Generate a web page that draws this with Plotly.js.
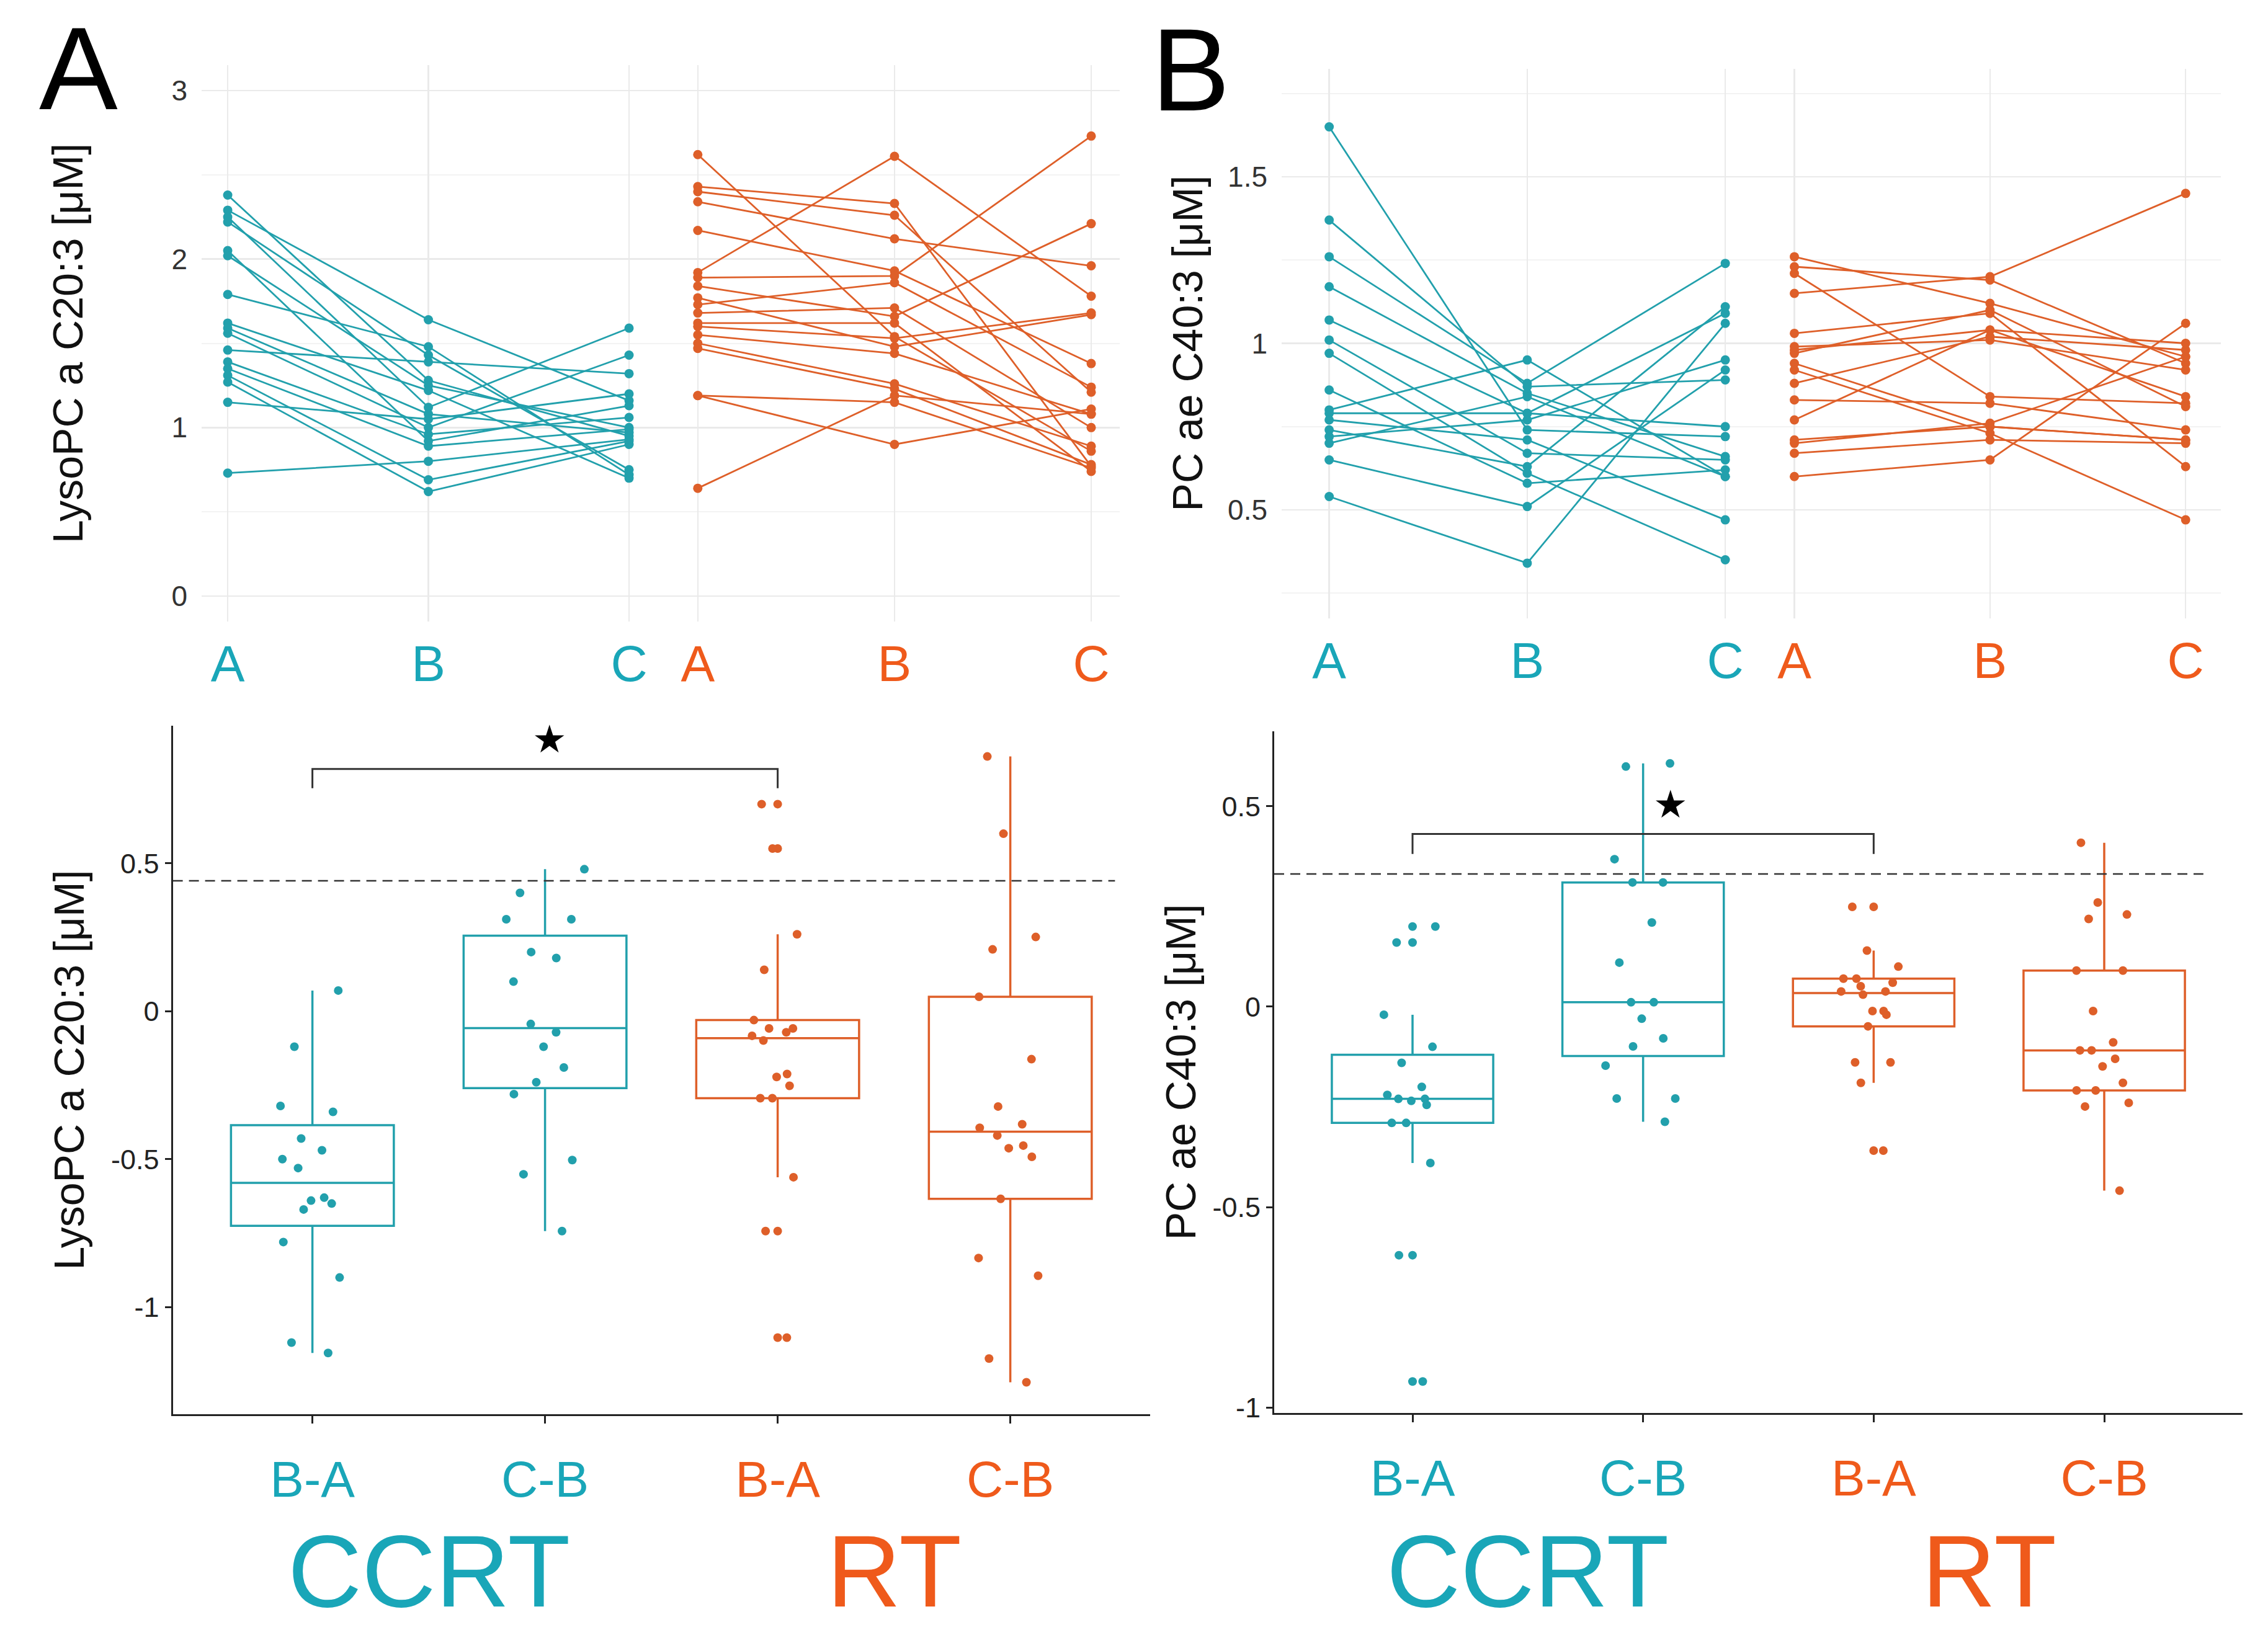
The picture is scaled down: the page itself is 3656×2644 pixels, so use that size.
<!DOCTYPE html>
<html>
<head>
<meta charset="utf-8">
<script src="https://cdn.plot.ly/plotly-3.0.1.min.js"></script>
<style>html,body{margin:0;padding:0;background:#fff}#chart{width:3656px;height:2644px}</style>
</head>
<body>
<div id="chart"></div>
<script>
// ---------- DATA ----------
const timepoints = ['A', 'B', 'C'];

// Panel A (top): LysoPC a C20:3 [uM], one value per subject at time points A, B, C
const lysoCCRT_A = [2.38, 2.29, 2.25, 2.22, 2.05, 2.02, 1.79, 1.62, 1.59, 1.56, 1.46, 1.39, 1.35, 1.31, 1.27, 1.15, 0.73];
const lysoCCRT_B = [1.28, 1.64, 1.12, 1.43, 0.92, 1.25, 1.48, 1.22, 1.08, 1.00, 1.39, 0.96, 0.89, 0.69, 0.62, 1.05, 0.80];
const lysoCCRT_C = [0.95, 1.16, 1.59, 0.75, 1.13, 1.00, 0.72, 0.70, 0.97, 1.43, 1.32, 1.06, 0.99, 0.92, 0.90, 1.20, 0.93];

const lysoRT_A = [2.62, 2.43, 2.40, 2.34, 2.17, 1.92, 1.89, 1.84, 1.77, 1.73, 1.68, 1.62, 1.55, 1.50, 1.47, 1.19, 1.19, 0.64, 1.60];
const lysoRT_B = [1.54, 2.33, 2.26, 2.12, 1.93, 2.61, 1.90, 1.66, 1.48, 1.86, 1.71, 1.62, 1.44, 1.26, 1.23, 1.15, 0.90, 1.19, 1.53];
const lysoRT_C = [0.86, 0.77, 1.21, 1.96, 1.38, 1.78, 2.73, 2.21, 1.67, 1.24, 1.00, 0.74, 1.08, 0.89, 0.78, 0.76, 1.11, 1.08, 1.68];

// Panel B (top): PC ae C40:3 [uM]
const pcCCRT_A = [1.65, 1.37, 1.26, 1.17, 1.07, 1.01, 0.97, 0.86, 0.80, 0.79, 0.77, 0.74, 0.72, 0.70, 0.65, 0.54];
const pcCCRT_B = [0.74, 0.87, 0.88, 0.85, 0.79, 0.67, 0.61, 0.58, 0.95, 0.79, 0.71, 0.63, 0.77, 0.84, 0.51, 0.34];
const pcCCRT_C = [0.72, 0.89, 1.24, 0.66, 0.75, 0.65, 0.35, 0.62, 0.60, 1.09, 0.47, 1.11, 0.95, 0.60, 0.92, 1.06];

const pcRT_A = [1.26, 1.23, 1.21, 1.15, 1.03, 0.98, 0.97, 0.94, 0.92, 0.88, 0.83, 0.77, 0.71, 0.70, 0.67, 0.60, 0.99];
const pcRT_B = [1.12, 1.19, 0.84, 1.20, 1.09, 1.04, 1.10, 0.75, 0.73, 1.02, 0.82, 1.04, 0.75, 0.76, 0.71, 0.65, 1.01];
const pcRT_C = [0.96, 0.94, 0.82, 1.45, 0.63, 0.84, 0.81, 0.71, 0.47, 0.98, 0.74, 1.00, 0.71, 0.96, 0.70, 1.06, 0.92];

// Bottom panels: differences between time points
const diffCategories = ['CCRT B-A', 'CCRT C-B', 'RT B-A', 'RT C-B'];
const diffTickLabels = ['B-A', 'C-B', 'B-A', 'C-B'];

const lysoDiff_CCRT_BA = [0.07, -0.12, -0.32, -0.34, -0.43, -0.47, -0.50, -0.53, -0.63, -0.64, -0.65, -0.67, -0.78, -0.90, -1.12, -1.155];
const lysoDiff_CCRT_CB = [0.48, 0.40, 0.311, 0.311, 0.20, 0.18, 0.10, -0.043, -0.071, -0.12, -0.19, -0.24, -0.28, -0.503, -0.551, -0.743];
const lysoDiff_RT_BA = [0.70, 0.55, 0.26, 0.14, -0.03, -0.058, -0.058, -0.071, -0.083, -0.099, -0.212, -0.222, -0.252, -0.294, -0.294, -0.561, -0.743, -1.103];
const lysoDiff_RT_CB = [0.861, 0.60, 0.251, 0.209, 0.049, -0.162, -0.322, -0.382, -0.394, -0.42, -0.454, -0.463, -0.492, -0.634, -0.834, -0.894, -1.174, -1.254];

const pcDiff_CCRT_BA = [0.20, 0.16, -0.02, -0.10, -0.14, -0.20, -0.22, -0.23, -0.235, -0.23, -0.245, -0.29, -0.29, -0.39, -0.62, -0.935];
const pcDiff_CCRT_CB = [0.607, 0.599, 0.368, 0.31, 0.31, 0.21, 0.11, 0.011, 0.011, -0.03, -0.079, -0.099, -0.147, -0.229, -0.229, -0.287];
const pcDiff_RT_BA = [0.249, 0.140, 0.100, 0.070, 0.070, 0.060, 0.051, 0.038, 0.038, 0.030, -0.011, -0.011, -0.020, -0.049, -0.139, -0.139, -0.190, -0.359];
const pcDiff_RT_CB = [0.409, 0.260, 0.230, 0.219, 0.09, 0.09, -0.011, -0.089, -0.109, -0.109, -0.130, -0.149, -0.190, -0.209, -0.209, -0.240, -0.249, -0.459];

const lysoThreshold = 0.441;
const pcThreshold = 0.331;
const groupNames = ['CCRT', 'RT'];

// ---------- STYLE ----------
const W = 3656, H = 2644;
const px = v => v / W;
const py = v => 1 - v / H;
const TEAL = '#22a0ac', ORANGE = '#de5f29';
const TEAL_TXT = '#19a6b8', ORANGE_TXT = '#ef5a1b';
const FONT = 'Liberation Sans, Arial, sans-serif';

function paired(a, b, c, xa, ya, color) {
  const x = [], y = [];
  for (let i = 0; i < a.length; i++) {
    x.push(timepoints[0], timepoints[1], timepoints[2], null);
    y.push(a[i], b[i], c[i], null);
  }
  return {type: 'scatter', mode: 'lines+markers', x, y, xaxis: xa, yaxis: ya,
    connectgaps: false, line: {color, width: 2.8}, marker: {color, size: 15},
    hoverinfo: 'skip', showlegend: false};
}

function boxPair(vals, cat, xa, ya, color) {
  const box = {type: 'box', y: vals, name: cat, xaxis: xa, yaxis: ya,
    width: 0.7, boxpoints: 'outliers', pointpos: 0, whiskerwidth: 0,
    line: {color, width: 3.5}, fillcolor: 'rgba(0,0,0,0)',
    marker: {color, size: 14, line: {width: 0}}, showlegend: false, hoverinfo: 'y'};
  const pts = {type: 'box', y: vals, name: cat, xaxis: xa, yaxis: ya,
    width: 0.7, boxpoints: 'all', jitter: 0.55, pointpos: 0,
    line: {color: 'rgba(0,0,0,0)', width: 0}, fillcolor: 'rgba(0,0,0,0)',
    marker: {color, size: 14, line: {width: 0}}, showlegend: false, hoverinfo: 'y'};
  return [box, pts];
}

const traces = [
  paired(lysoCCRT_A, lysoCCRT_B, lysoCCRT_C, 'x', 'y', TEAL),
  paired(lysoRT_A, lysoRT_B, lysoRT_C, 'x2', 'y', ORANGE),
  paired(pcCCRT_A, pcCCRT_B, pcCCRT_C, 'x3', 'y2', TEAL),
  paired(pcRT_A, pcRT_B, pcRT_C, 'x4', 'y2', ORANGE),
  ...boxPair(lysoDiff_CCRT_BA, diffCategories[0], 'x5', 'y3', TEAL),
  ...boxPair(lysoDiff_CCRT_CB, diffCategories[1], 'x5', 'y3', TEAL),
  ...boxPair(lysoDiff_RT_BA, diffCategories[2], 'x5', 'y3', ORANGE),
  ...boxPair(lysoDiff_RT_CB, diffCategories[3], 'x5', 'y3', ORANGE),
  ...boxPair(pcDiff_CCRT_BA, diffCategories[0], 'x6', 'y4', TEAL),
  ...boxPair(pcDiff_CCRT_CB, diffCategories[1], 'x6', 'y4', TEAL),
  ...boxPair(pcDiff_RT_BA, diffCategories[2], 'x6', 'y4', ORANGE),
  ...boxPair(pcDiff_RT_CB, diffCategories[3], 'x6', 'y4', ORANGE)
];

const GRID = '#eaeaea', MINOR = '#f3f3f3';
function topX(domain, range, color, anchor) {
  return {domain, range, anchor, type: 'category', categoryorder: 'array', categoryarray: timepoints,
    showgrid: true, gridcolor: GRID, gridwidth: 2.5, zeroline: false, showline: false, ticks: '',
    tickfont: {family: FONT, size: 82, color}, ticklabelstandoff: 13, fixedrange: true};
}
function topY(domain, range, dtick, minor, anchor, title, standoff) {
  return {domain, range, anchor, dtick, tick0: 0, showgrid: true, gridcolor: GRID, gridwidth: 2.5,
    minor: {dtick: minor, tick0: 0, showgrid: true, gridcolor: MINOR, gridwidth: 2},
    zeroline: false, showline: false, ticks: '', ticklabelstandoff: 22,
    tickfont: {family: FONT, size: 46, color: '#333'},
    title: {text: title, font: {family: FONT, size: 68, color: '#111'}, standoff}};
}
function botX(domain, anchor) {
  return {domain, anchor, type: 'category', categoryorder: 'array', categoryarray: diffCategories,
    range: [-0.6, 3.6], tickvals: diffCategories,
    ticktext: diffTickLabels.map((t, i) => '<span style="color:' + (i < 2 ? TEAL_TXT : ORANGE_TXT) + '">' + t + '</span>'),
    showline: true, linecolor: '#222', linewidth: 3, ticks: 'outside', ticklen: 12, tickwidth: 3, tickcolor: '#222',
    tickfont: {family: FONT, size: 82}, ticklabelstandoff: 20, showgrid: false, zeroline: false, fixedrange: true};
}
function botY(domain, range, anchor, title, standoff) {
  return {domain, range, anchor, tickvals: [-1, -0.5, 0, 0.5], ticktext: ['-1', '-0.5', '0', '0.5'],
    showline: true, linecolor: '#222', linewidth: 3, ticks: 'outside', ticklen: 10, tickwidth: 3, tickcolor: '#222',
    tickfont: {family: FONT, size: 45, color: '#222'}, showgrid: false, zeroline: false,
    title: {text: title, font: {family: FONT, size: 68, color: '#111'}, standoff}};
}

const lysoTitle = 'LysoPC a C20:3 [μM]';
const pcTitle = 'PC ae C40:3 [μM]';

const layout = {
  width: W, height: H, margin: {l: 0, r: 0, t: 0, b: 0},
  paper_bgcolor: '#fff', plot_bgcolor: 'rgba(0,0,0,0)', showlegend: false,
  font: {family: FONT, color: '#222'}, boxmode: 'overlay',
  xaxis: topX([px(325), px(1069)], [-0.13, 2.17], TEAL_TXT, 'y'),
  xaxis2: topX([px(1069), px(1805)], [-0.176, 2.145], ORANGE_TXT, 'y'),
  yaxis: topY([py(1001.75), py(105.25)], [-0.15, 3.15], 1, 0.5, 'x', lysoTitle, 120),
  xaxis3: topX([px(2066), px(2837)], [-0.24, 2.175], TEAL_TXT, 'y2'),
  xaxis4: topX([px(2837), px(3580)], [-0.176, 2.18], ORANGE_TXT, 'y2'),
  yaxis2: topY([py(996.5), py(110.5)], [0.175, 1.825], 0.5, 0.25, 'x3', pcTitle, 18),
  xaxis5: botX([px(278.6), px(1853.6)], 'y3'),
  yaxis3: botY([py(2280), py(1170)], [-1.362, 0.965], 'x5', lysoTitle, 22),
  xaxis6: botX([px(2054), px(3615)], 'y4'),
  yaxis4: botY([py(2277.6), py(1179)], [-1.013, 0.687], 'x6', pcTitle, 5),
  shapes: [
    {type: 'line', xref: 'x5', yref: 'y3', x0: -0.6, x1: 3.45, y0: lysoThreshold, y1: lysoThreshold,
      line: {color: '#333', width: 2.5, dash: '16px,10px'}},
    {type: 'path', xref: 'x5', yref: 'y3', path: 'M0,0.754 L0,0.819 L2,0.819 L2,0.754',
      line: {color: '#333', width: 3}},
    {type: 'line', xref: 'x6', yref: 'y4', x0: -0.6, x1: 3.43, y0: pcThreshold, y1: pcThreshold,
      line: {color: '#333', width: 2.5, dash: '16px,10px'}},
    {type: 'path', xref: 'x6', yref: 'y4', path: 'M0,0.381 L0,0.431 L2,0.431 L2,0.381',
      line: {color: '#333', width: 3}}
  ],
  annotations: [
    {text: 'A', xref: 'paper', yref: 'paper', x: px(126), y: py(110), xanchor: 'center', yanchor: 'middle',
      showarrow: false, font: {family: FONT, size: 190, color: '#000'}},
    {text: 'B', xref: 'paper', yref: 'paper', x: px(1920), y: py(112), xanchor: 'center', yanchor: 'middle',
      showarrow: false, font: {family: FONT, size: 190, color: '#000'}},
    {text: '★', xref: 'x5', yref: 'y3', x: 1.02, y: 0.92, showarrow: false,
      font: {family: 'DejaVu Sans', size: 62, color: '#000'}},
    {text: '★', xref: 'x6', yref: 'y4', x: 1.12, y: 0.505, showarrow: false,
      font: {family: 'DejaVu Sans', size: 62, color: '#000'}},
    {text: groupNames[0], xref: 'x5', yref: 'paper', x: 0.5, y: py(2533), showarrow: false,
      xanchor: 'center', yanchor: 'middle', font: {family: FONT, size: 165, color: TEAL_TXT}},
    {text: groupNames[1], xref: 'x5', yref: 'paper', x: 2.5, y: py(2533), showarrow: false,
      xanchor: 'center', yanchor: 'middle', font: {family: FONT, size: 165, color: ORANGE_TXT}},
    {text: groupNames[0], xref: 'x6', yref: 'paper', x: 0.5, y: py(2533), showarrow: false,
      xanchor: 'center', yanchor: 'middle', font: {family: FONT, size: 165, color: TEAL_TXT}},
    {text: groupNames[1], xref: 'x6', yref: 'paper', x: 2.5, y: py(2533), showarrow: false,
      xanchor: 'center', yanchor: 'middle', font: {family: FONT, size: 165, color: ORANGE_TXT}}
  ]
};

Plotly.newPlot('chart', traces, layout, {staticPlot: true, displayModeBar: false});
</script>
</body>
</html>
